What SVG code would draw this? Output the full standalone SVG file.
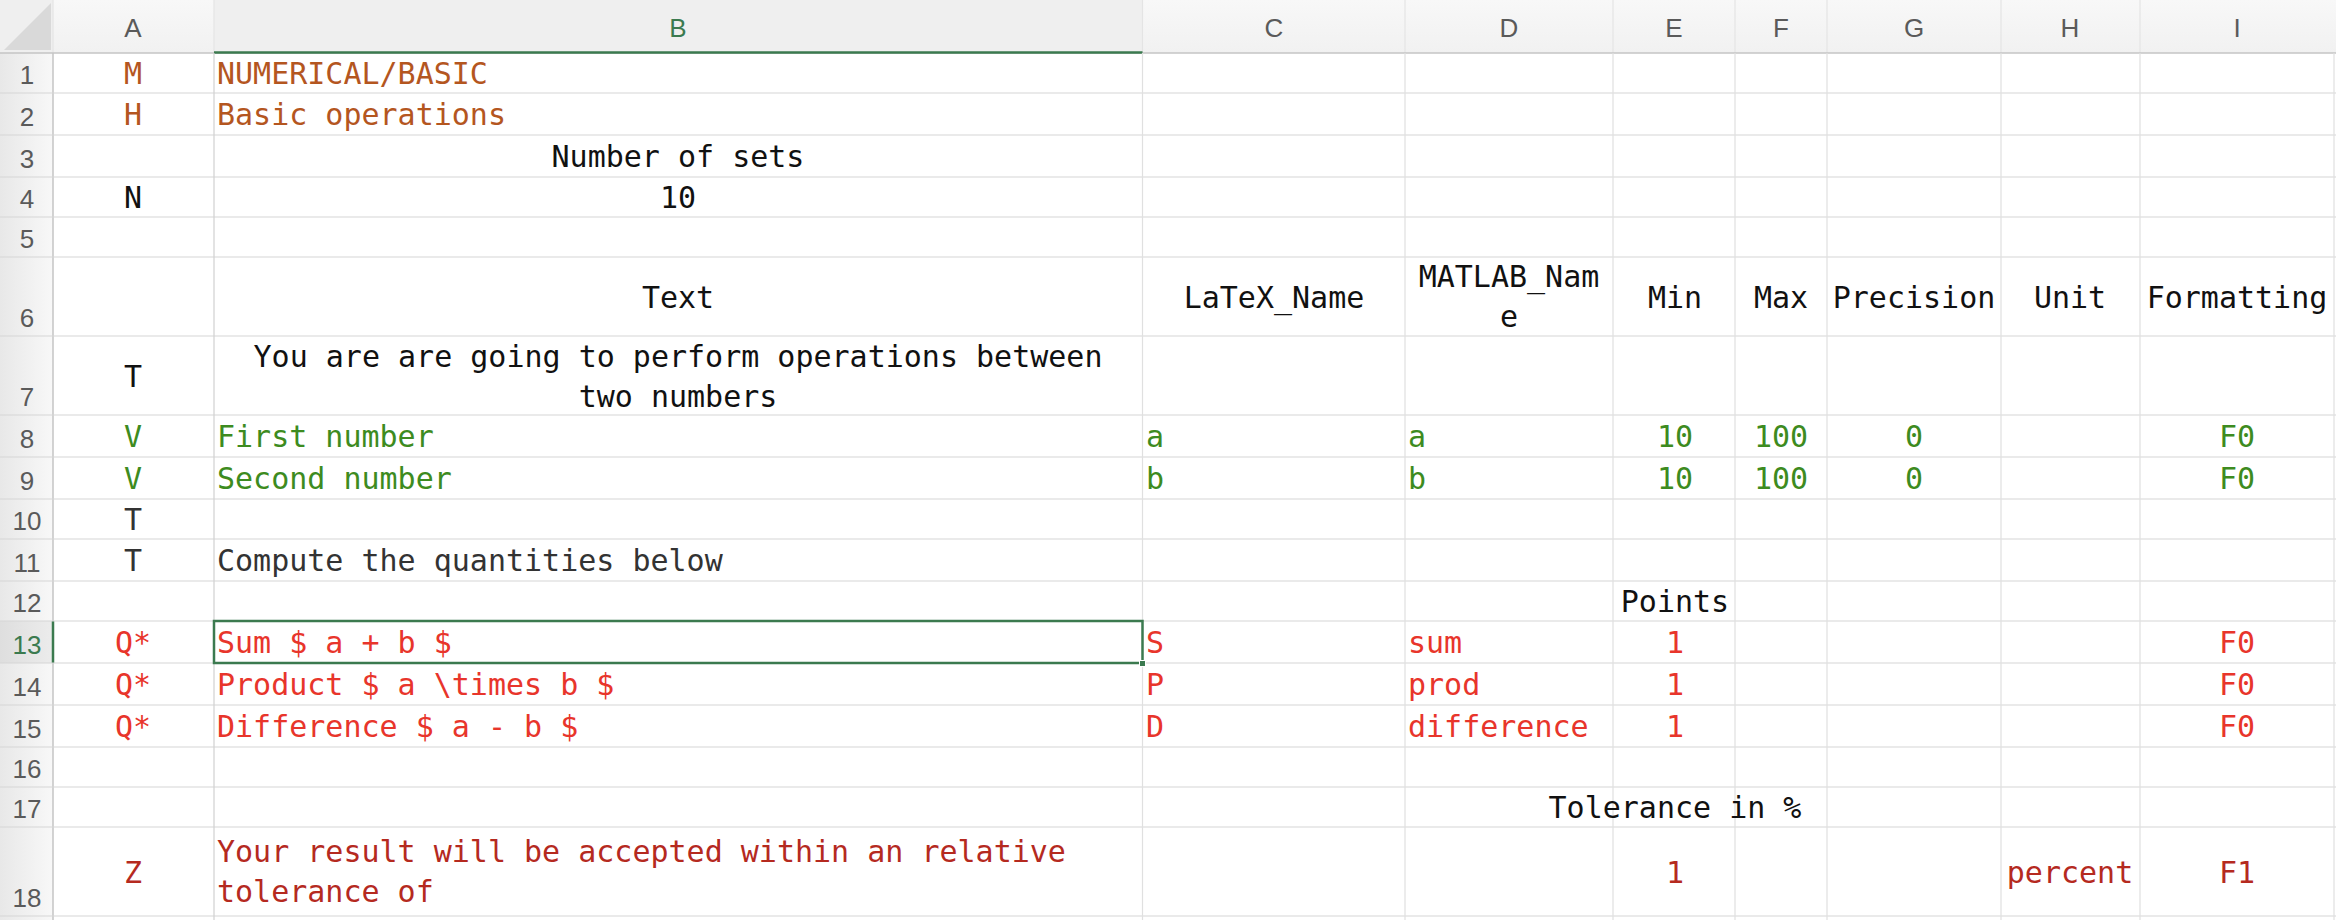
<svg xmlns="http://www.w3.org/2000/svg" width="2336" height="920" viewBox="0 0 2336 920">
<style>
.m{font-family:"DejaVu Sans Mono","Liberation Mono",monospace;font-size:30px}
.c{text-anchor:middle}
.hd{font-family:"Liberation Sans",Arial,sans-serif;font-size:26px;fill:#5a5a5a;text-anchor:middle}
.br{fill:#b4561f}
.gr{fill:#3d8b20}
.rd{fill:#e8352b}
.dr{fill:#b52a1f}
.bk{fill:#111}
.dk{fill:#333}
.hl{stroke:#d6d6d6;stroke-width:1.2}
.vl{stroke:#e0e0e0;stroke-width:1.2}
</style>
<defs>
<linearGradient id="rowhdr" x1="0" y1="0" x2="1" y2="0">
<stop offset="0" stop-color="#e8e8e8"/>
<stop offset="1" stop-color="#f8f8f8"/>
</linearGradient>
<linearGradient id="rowsel" x1="0" y1="0" x2="1" y2="0">
<stop offset="0" stop-color="#dedede"/>
<stop offset="1" stop-color="#ececec"/>
</linearGradient>
<linearGradient id="colhdr" x1="0" y1="0" x2="0" y2="1">
<stop offset="0" stop-color="#f8f8f8"/>
<stop offset="1" stop-color="#f1f1f1"/>
</linearGradient>
</defs>
<rect width="2336" height="920" fill="#ffffff"/>
<g id="headers">
<rect x="0" y="0" width="2336" height="53" fill="url(#colhdr)"/>
<rect x="214" y="0" width="928.5" height="53" fill="#efefef"/>
<rect x="0" y="53" width="53" height="867" fill="url(#rowhdr)"/>
<rect x="0" y="621" width="53" height="42" fill="url(#rowsel)"/>
<rect x="0" y="0" width="53" height="53" fill="#efefef"/>
<polygon points="4,50 51,3 51,50" fill="#d9d9d9"/>
<g stroke="#e4e4e4" stroke-width="1.2">
<line x1="53" y1="0" x2="53" y2="53"/><line x1="214" y1="0" x2="214" y2="53"/><line x1="1142.5" y1="0" x2="1142.5" y2="53"/><line x1="1405" y1="0" x2="1405" y2="53"/><line x1="1613" y1="0" x2="1613" y2="53"/><line x1="1735" y1="0" x2="1735" y2="53"/><line x1="1827" y1="0" x2="1827" y2="53"/><line x1="2001" y1="0" x2="2001" y2="53"/><line x1="2140" y1="0" x2="2140" y2="53"/>
</g>
<line x1="0" y1="53" x2="2336" y2="53" stroke="#c4c4c4" stroke-width="1.5"/>
<line x1="214" y1="52.5" x2="1142.5" y2="52.5" stroke="#3b7a4f" stroke-width="2.5"/>
<line x1="53" y1="53" x2="53" y2="920" stroke="#c4c4c4" stroke-width="1.5"/>
<line x1="53" y1="621" x2="53" y2="663" stroke="#3b7a4f" stroke-width="2.5"/>
<text class="hd" x="133" y="37">A</text>
<text class="hd" x="678" y="37" fill="#3b7a4f" style="fill:#3b7a4f">B</text>
<text class="hd" x="1274" y="37">C</text>
<text class="hd" x="1509" y="37">D</text>
<text class="hd" x="1674" y="37">E</text>
<text class="hd" x="1781" y="37">F</text>
<text class="hd" x="1914" y="37">G</text>
<text class="hd" x="2070" y="37">H</text>
<text class="hd" x="2237" y="37">I</text>
<text class="hd" x="27" y="84">1</text>
<text class="hd" x="27" y="126">2</text>
<text class="hd" x="27" y="168">3</text>
<text class="hd" x="27" y="208">4</text>
<text class="hd" x="27" y="248">5</text>
<text class="hd" x="27" y="327">6</text>
<text class="hd" x="27" y="406">7</text>
<text class="hd" x="27" y="448">8</text>
<text class="hd" x="27" y="490">9</text>
<text class="hd" x="27" y="530">10</text>
<text class="hd" x="27" y="572">11</text>
<text class="hd" x="27" y="612">12</text>
<text class="hd" x="27" y="654" style="fill:#3b7a4f">13</text>
<text class="hd" x="27" y="696">14</text>
<text class="hd" x="27" y="738">15</text>
<text class="hd" x="27" y="778">16</text>
<text class="hd" x="27" y="818">17</text>
<text class="hd" x="27" y="907">18</text>
</g>
<g id="grid">
<g class="hl">
<line x1="0" y1="93" x2="2336" y2="93"/><line x1="0" y1="135" x2="2336" y2="135"/><line x1="0" y1="177" x2="2336" y2="177"/><line x1="0" y1="217" x2="2336" y2="217"/><line x1="0" y1="257" x2="2336" y2="257"/><line x1="0" y1="336" x2="2336" y2="336"/><line x1="0" y1="415" x2="2336" y2="415"/><line x1="0" y1="457" x2="2336" y2="457"/><line x1="0" y1="499" x2="2336" y2="499"/><line x1="0" y1="539" x2="2336" y2="539"/><line x1="0" y1="581" x2="2336" y2="581"/><line x1="0" y1="621" x2="2336" y2="621"/><line x1="0" y1="663" x2="2336" y2="663"/><line x1="0" y1="705" x2="2336" y2="705"/><line x1="0" y1="747" x2="2336" y2="747"/><line x1="0" y1="787" x2="2336" y2="787"/><line x1="0" y1="827" x2="2336" y2="827"/><line x1="0" y1="916" x2="2336" y2="916"/>
</g>
<g class="vl">
<line x1="214" y1="53" x2="214" y2="920" stroke="#d0d0d0"/><line x1="1142.5" y1="53" x2="1142.5" y2="920"/><line x1="1405" y1="53" x2="1405" y2="920"/><line x1="1613" y1="53" x2="1613" y2="920"/><line x1="1735" y1="53" x2="1735" y2="920"/><line x1="1827" y1="53" x2="1827" y2="920"/><line x1="2001" y1="53" x2="2001" y2="920"/><line x1="2140" y1="53" x2="2140" y2="920"/><line x1="2334" y1="53" x2="2334" y2="920"/>
</g>
</g>
<g id="selection">
<rect x="214" y="621" width="928.5" height="42" fill="none" stroke="#3b7a4f" stroke-width="2.5"/>
<rect x="1139.5" y="660.5" width="6" height="6" fill="#3b7a4f" stroke="#ffffff" stroke-width="1"/>
</g>
<g id="colA" class="m">
<text class="c br" x="133" y="84">M</text>
<text class="c br" x="133" y="125">H</text>
<text class="c bk" x="133" y="208">N</text>
<text class="c bk" x="133" y="386.5">T</text>
<text class="c gr" x="133" y="447">V</text>
<text class="c gr" x="133" y="489">V</text>
<text class="c dk" x="133" y="530">T</text>
<text class="c dk" x="133" y="571">T</text>
<text class="c rd" x="133" y="653">Q*</text>
<text class="c rd" x="133" y="695">Q*</text>
<text class="c rd" x="133" y="737">Q*</text>
<text class="c dr" x="133" y="882.5">Z</text>
</g>
<g id="colB" class="m">
<text class="br" x="217" y="84">NUMERICAL/BASIC</text>
<text class="br" x="217" y="125">Basic operations</text>
<text class="c bk" x="678" y="167">Number of sets</text>
<text class="c bk" x="678" y="208">10</text>
<text class="c bk" x="678" y="307.5">Text</text>
<text class="c bk" x="678" y="367">You are are going to perform operations between</text>
<text class="c bk" x="678" y="407">two numbers</text>
<text class="gr" x="217" y="447">First number</text>
<text class="gr" x="217" y="489">Second number</text>
<text class="dk" x="217" y="571">Compute the quantities below</text>
<text class="rd" x="217" y="653">Sum $ a + b $</text>
<text class="rd" x="217" y="695">Product $ a \times b $</text>
<text class="rd" x="217" y="737">Difference $ a - b $</text>
<text class="dr" x="217" y="862">Your result will be accepted within an relative</text>
<text class="dr" x="217" y="902">tolerance of</text>
</g>
<g id="colC" class="m">
<text class="c bk" x="1274" y="307.5">LaTeX_Name</text>
<text class="gr" x="1146" y="447">a</text>
<text class="gr" x="1146" y="489">b</text>
<text class="rd" x="1146" y="653">S</text>
<text class="rd" x="1146" y="695">P</text>
<text class="rd" x="1146" y="737">D</text>
</g>
<g id="colD" class="m">
<text class="c bk" x="1509" y="287">MATLAB_Nam</text>
<text class="c bk" x="1509" y="327">e</text>
<text class="gr" x="1408" y="447">a</text>
<text class="gr" x="1408" y="489">b</text>
<text class="rd" x="1408" y="653">sum</text>
<text class="rd" x="1408" y="695">prod</text>
<text class="rd" x="1408" y="737">difference</text>
</g>
<g id="colE" class="m">
<text class="c bk" x="1675" y="307.5">Min</text>
<text class="c gr" x="1675" y="447">10</text>
<text class="c gr" x="1675" y="489">10</text>
<text class="c bk" x="1675" y="612">Points</text>
<text class="c rd" x="1675" y="653">1</text>
<text class="c rd" x="1675" y="695">1</text>
<text class="c rd" x="1675" y="737">1</text>
<text class="c bk" x="1675" y="818">Tolerance in %</text>
<text class="c dr" x="1675" y="882.5">1</text>
</g>
<g id="colF" class="m">
<text class="c bk" x="1781" y="307.5">Max</text>
<text class="c gr" x="1781" y="447">100</text>
<text class="c gr" x="1781" y="489">100</text>
</g>
<g id="colG" class="m">
<text class="c bk" x="1914" y="307.5">Precision</text>
<text class="c gr" x="1914" y="447">0</text>
<text class="c gr" x="1914" y="489">0</text>
</g>
<g id="colH" class="m">
<text class="c bk" x="2070" y="307.5">Unit</text>
<text class="c dr" x="2070" y="882.5">percent</text>
</g>
<g id="colI" class="m">
<text class="c bk" x="2237" y="307.5">Formatting</text>
<text class="c gr" x="2237" y="447">F0</text>
<text class="c gr" x="2237" y="489">F0</text>
<text class="c rd" x="2237" y="653">F0</text>
<text class="c rd" x="2237" y="695">F0</text>
<text class="c rd" x="2237" y="737">F0</text>
<text class="c dr" x="2237" y="882.5">F1</text>
</g>
</svg>
